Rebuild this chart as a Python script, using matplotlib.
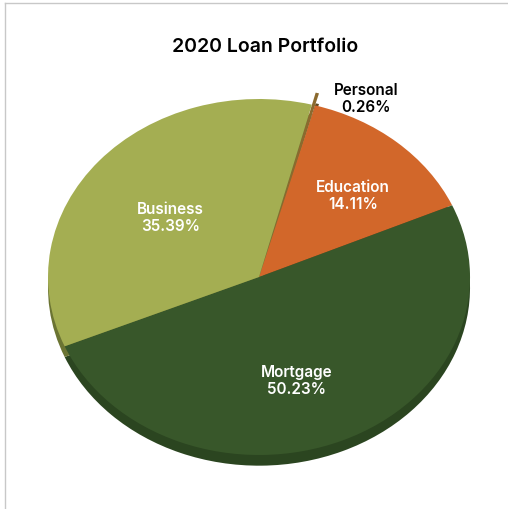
import matplotlib.pyplot as plt
from matplotlib.lines import Line2D

title = '2020 Loan Portfolio'
labels = ['Personal', 'Education', 'Mortgage', 'Business']
values = [0.26, 14.11, 50.23, 35.39]

top_colors = ['#8b6a2e', '#d2672a', '#38572a', '#a4ae52']
side_colors = ['#5e4820', '#9c4a1c', '#2b4520', '#6b7433']
explode = [0.07, 0, 0, 0]
depth = 0.06
start = 75.5

plt.rcParams['font.family'] = ['Inter', 'DejaVu Sans']

fig = plt.figure(figsize=(5.08, 5.10), dpi=100)
ax = fig.add_axes([0, 0, 1, 1])

# side of the disc: same pie shifted down, drawn first
ax.pie(values, colors=side_colors, explode=explode, startangle=start,
       counterclock=False, center=(0, -depth),
       wedgeprops=dict(linewidth=0))
# top face
ax.pie(values, colors=top_colors, explode=explode, startangle=start,
       counterclock=False, center=(0, 0),
       wedgeprops=dict(linewidth=0))

# squash the circle into a tilted ellipse
ax.set_aspect('auto')
ax.set_xlim(-1.2275, 1.180)
ax.set_ylim(-1.3034, 1.5618)
ax.axis('off')

pos = {'Personal': (0.507, 1.006), 'Education': (0.445, 0.46),
       'Mortgage': (0.18, -0.58), 'Business': (-0.42, 0.337)}
for name, v in zip(labels, values):
    x, y = pos[name]
    c = 'black' if name == 'Personal' else 'white'
    ax.text(x, y, f'{name}\n{v:.2f}%', ha='center', va='center',
            color=c, fontsize=11, fontweight='semibold', linespacing=1.15)

fig.text(0.522, 0.908, title, ha='center', va='center',
         fontsize=14, fontweight='semibold', color='black')

# thin frame on top and left
fig.add_artist(Line2D([5 / 508, 1], [1 - 4 / 510] * 2, color='#c8c8c8', lw=1))
fig.add_artist(Line2D([5 / 508] * 2, [0, 1 - 4 / 510], color='#c8c8c8', lw=1))

fig.savefig('out.png', dpi=100)
